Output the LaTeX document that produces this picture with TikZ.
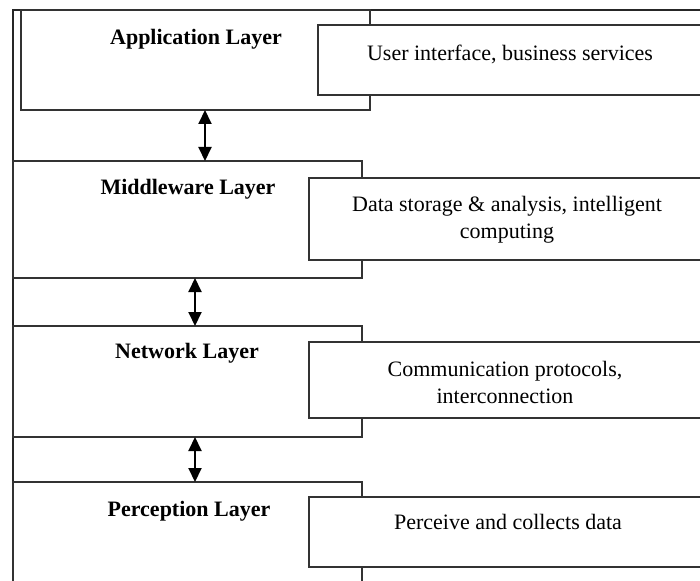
\documentclass[tikz,border=0pt]{standalone}
\usepackage{fontspec}
\setmainfont{Liberation Serif}
\usetikzlibrary{arrows.meta}
\begin{document}
\begin{tikzpicture}[x=1pt,y=-1pt,
  box/.style={draw=black!80, line width=1.8pt, fill=white, inner sep=0pt, outer sep=0pt},
  frameline/.style={draw=black!85, line width=1.2pt},
  ttl/.style={font=\fontsize{22}{26}\selectfont\bfseries, inner sep=0pt},
  desc/.style={font=\fontsize{22}{27}\selectfont, align=center, inner sep=0pt},
  dbl/.style={line width=2pt, {Triangle[width=13pt,length=14pt]}-{Triangle[width=13pt,length=14pt]}}
]
\useasboundingbox (0,0) rectangle (700,580);
\clip (0,0) rectangle (700,580);
\fill[white] (0,0) rectangle (700,580);
% frame
\coordinate (fbl) at (13,585);
\coordinate (ftl) at (13,10);
\coordinate (ftr) at (705,10);
\draw[frameline] (fbl) -- (ftl) -- (ftr);
% layer boxes
\node[box, minimum width=349pt, minimum height=100pt] (app) at (195.5,60) {};
\node[box, minimum width=384pt, minimum height=70pt] (appR) at (510,60) {};
\node[box, minimum width=349pt, minimum height=117pt] (mid) at (187.5,219.5) {};
\node[box, minimum width=396pt, minimum height=82pt] (midR) at (507,219) {};
\node[box, minimum width=349pt, minimum height=111pt] (net) at (187.5,381.5) {};
\node[box, minimum width=396pt, minimum height=76pt] (netR) at (507,380) {};
\node[box, minimum width=349pt, minimum height=110pt] (per) at (187.5,537) {};
\node[box, minimum width=396pt, minimum height=70pt] (perR) at (507,532) {};
% titles
\node[ttl] (tapp) at (196,39) {Application Layer};
\node[ttl] (tmid) at (188,189) {Middleware Layer};
\node[ttl] (tnet) at (187,353) {Network Layer};
\node[ttl] (tper) at (189,511) {Perception Layer};
% descriptions
\node[desc] (dapp) at (510,54) {User interface, business services};
\node[desc] (dmid) at (507,220) {Data storage \& analysis, intelligent\\computing};
\node[desc] (dnet) at (505,382) {Communication protocols,\\interconnection};
\node[desc] (dper) at (508,522) {Perceive and collects data};
% arrows
\coordinate (a1) at (205,0);
\coordinate (a2) at (195,0);
\draw[dbl] (app.south -| a1) -- (mid.north -| a1);
\draw[dbl] (mid.south -| a2) -- (net.north -| a2);
\draw[dbl] (net.south -| a2) -- (per.north -| a2);
\end{tikzpicture}
\end{document}
